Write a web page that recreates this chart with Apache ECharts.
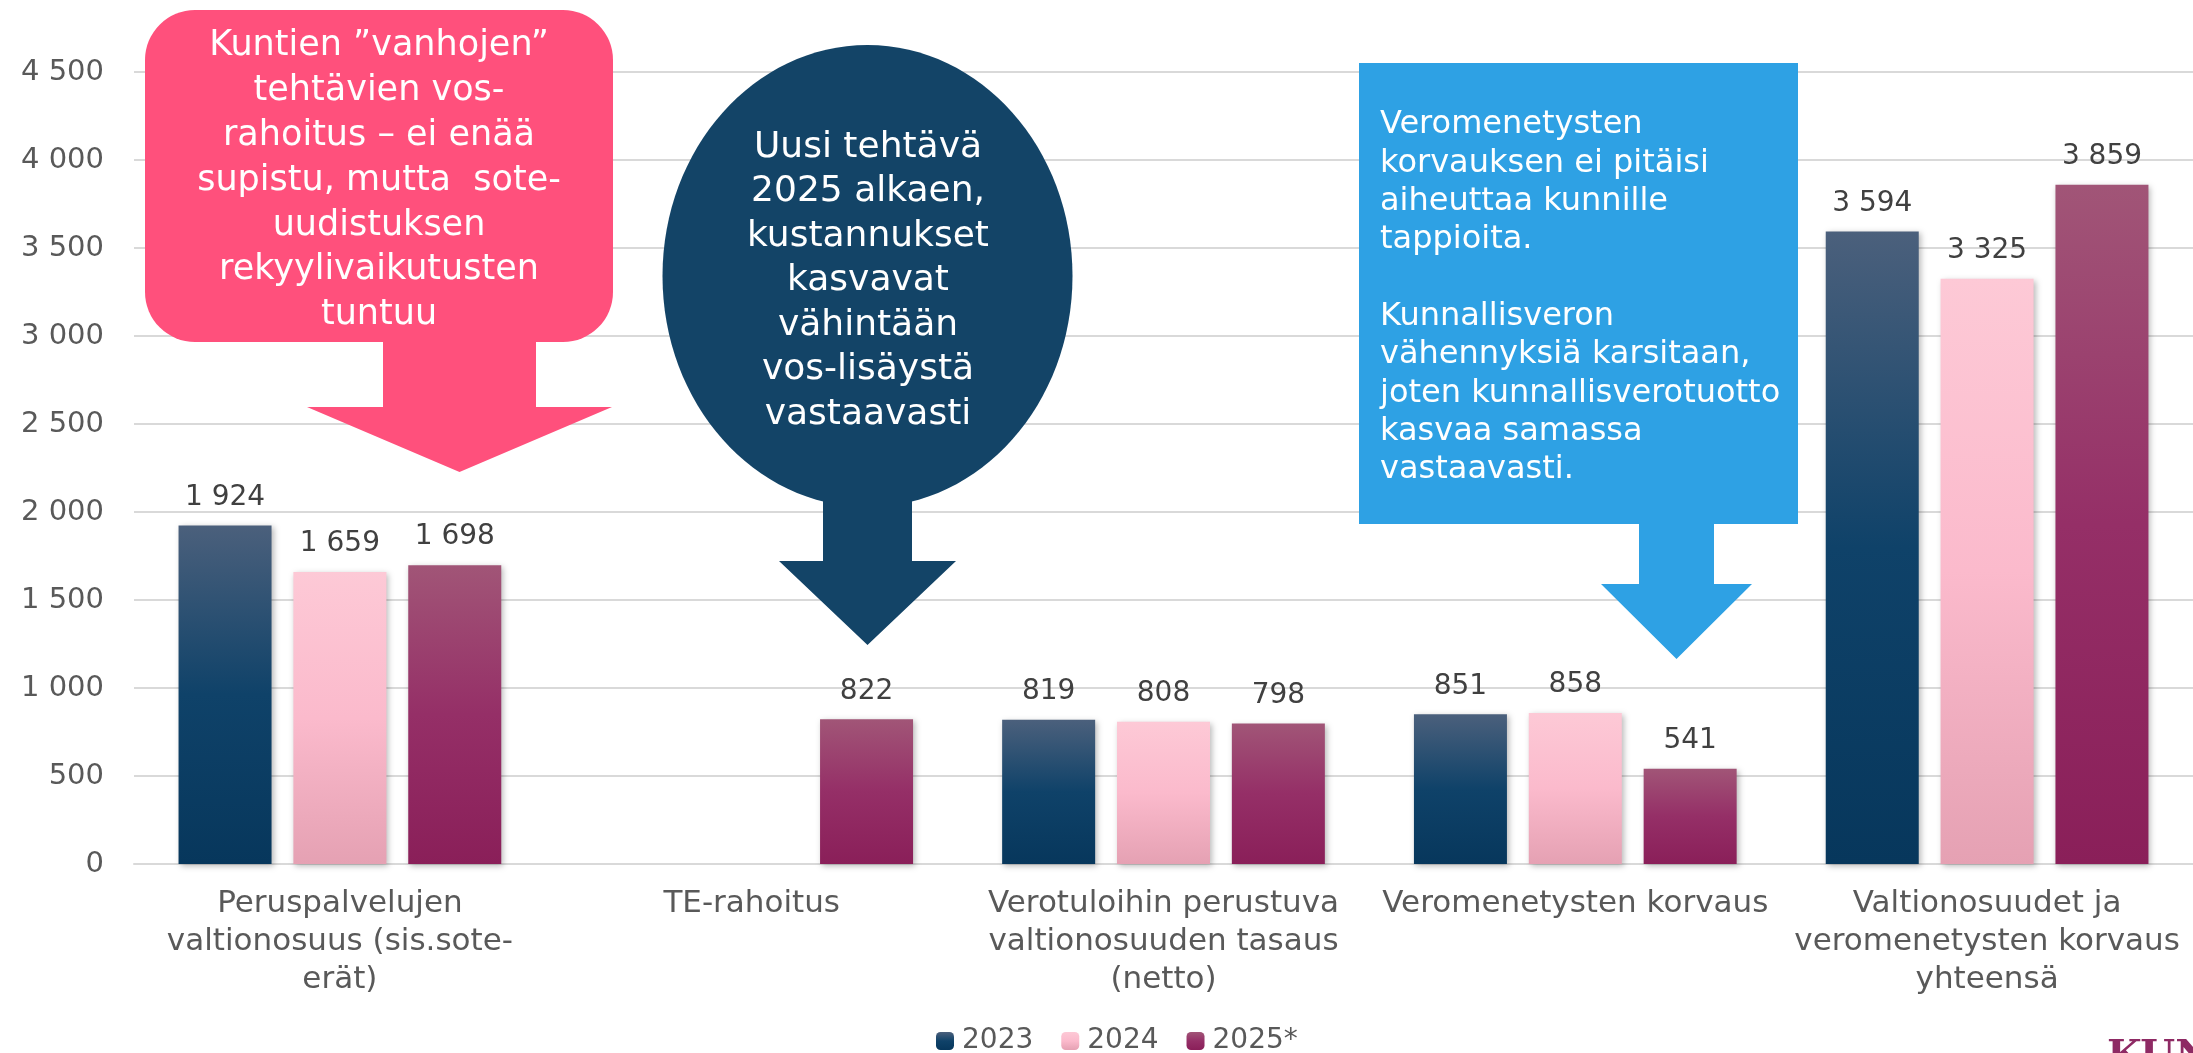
<!DOCTYPE html>
<html>
<head>
<meta charset="utf-8">
<script src="https://cdn.jsdelivr.net/npm/echarts@6/dist/echarts.min.js"></script>
<style>
  html, body { margin: 0; padding: 0; background: #fff; }
  #chart { width: 2193px; height: 1053px; }
</style>
</head>
<body>
<div id="chart"></div>
<script>
// luokat ja arvot (milj. euroa)
var categories = [
  'Peruspalvelujen\nvaltionosuus (sis.sote-\nerät)',
  'TE-rahoitus',
  'Verotuloihin perustuva\nvaltionosuuden tasaus\n(netto)',
  'Veromenetysten korvaus',
  'Valtionosuudet ja\nveromenetysten korvaus\nyhteensä'
]
var years = ['2023', '2024', '2025*']
var data2023 = [1924, null, 819, 851, 3594]
var data2024 = [1659, null, 808, 858, 3325]
var data2025 = [1698, 822, 798, 541, 3859]

var FONT = 'DejaVu Sans'

function grad(c0, c1, c2) {
  return new echarts.graphic.LinearGradient(0, 0, 0, 1, [
    { offset: 0, color: c0 },
    { offset: 0.5, color: c1 },
    { offset: 1, color: c2 }
  ])
}

function fmt(v) {
  return String(v).replace(/\B(?=(\d{3})+(?!\d))/g, ' ')
}

var colors = [
  grad('#4b607c', '#0f4269', '#07375c'),
  grad('#fdc9d6', '#fbbacc', '#e5a1b3'),
  grad('#a15577', '#952f67', '#8a1f59')
]

function barSeries(name, values, color) {
  return {
    name: name,
    type: 'bar',
    data: values,
    barWidth: 93,
    barGap: '23.5%',
    itemStyle: {
      color: color,
      shadowBlur: 6,
      shadowOffsetX: 2,
      shadowOffsetY: 2,
      shadowColor: 'rgba(0,0,0,0.28)'
    },
    label: {
      show: true,
      position: 'top',
      distance: 14,
      fontFamily: FONT,
      fontSize: 28,
      color: '#404040',
      formatter: function (p) { return fmt(p.value) }
    }
  }
}

var chart = echarts.init(document.getElementById('chart'))

chart.setOption({
  animation: false,
  textStyle: { fontFamily: FONT },
  grid: { left: 134, top: 72, width: 2072, height: 792 },
  legend: {
    data: years,
    left: 936,
    top: 1026,
    padding: 0,
    itemWidth: 18,
    itemHeight: 18,
    itemGap: 28,
    textStyle: { fontFamily: FONT, fontSize: 28, color: '#595959', lineHeight: 30, padding: [0, 0, 0, 3] }
  },
  xAxis: {
    type: 'category',
    data: categories,
    axisTick: { show: false },
    axisLine: { lineStyle: { color: '#d9d9d9', width: 2 } },
    axisLabel: {
      interval: 0,
      margin: 21,
      fontFamily: FONT,
      fontSize: 31,
      lineHeight: 38,
      color: '#595959'
    }
  },
  yAxis: {
    type: 'value',
    min: 0,
    max: 4500,
    interval: 500,
    axisLine: { show: false },
    axisTick: { show: false },
    splitLine: { lineStyle: { color: '#d9d9d9', width: 2 } },
    axisLabel: {
      margin: 30,
      fontFamily: FONT,
      fontSize: 29,
      color: '#595959',
      formatter: fmt
    }
  },
  series: [
    barSeries(years[0], data2023, colors[0]),
    barSeries(years[1], data2024, colors[1]),
    barSeries(years[2], data2025, colors[2])
  ],
  graphic: [
    // pinkki puhekupla + nuoli
    {
      type: 'rect',
      shape: { x: 145, y: 10, width: 468, height: 332, r: 50 },
      style: { fill: '#ff507c' },
      z: 50
    },
    {
      type: 'polygon',
      shape: { points: [[383, 340], [536, 340], [536, 407], [612, 407], [459.5, 472], [307, 407], [383, 407]] },
      style: { fill: '#ff507c' },
      z: 50
    },
    {
      type: 'text',
      z: 51,
      style: {
        x: 379,
        y: 24,
        text: 'Kuntien ”vanhojen”\ntehtävien vos-\nrahoitus – ei enää\nsupistu, mutta  sote-\nuudistuksen\nrekyylivaikutusten\ntuntuu',
        fill: '#fff',
        font: '35px "DejaVu Sans"',
        align: 'center',
        verticalAlign: 'top',
        lineHeight: 44.8
      }
    },
    // tumma soikio + nuoli
    {
      type: 'ellipse',
      shape: { cx: 867.5, cy: 276, rx: 205, ry: 231 },
      style: { fill: '#134467' },
      z: 50
    },
    {
      type: 'polygon',
      shape: { points: [[823, 470], [912, 470], [912, 561], [956, 561], [867.5, 645], [779, 561], [823, 561]] },
      style: { fill: '#134467' },
      z: 50
    },
    {
      type: 'text',
      z: 51,
      style: {
        x: 868,
        y: 125,
        text: 'Uusi tehtävä\n2025 alkaen,\nkustannukset\nkasvavat\nvähintään\nvos-lisäystä\nvastaavasti',
        fill: '#fff',
        font: '36px "DejaVu Sans"',
        align: 'center',
        verticalAlign: 'top',
        lineHeight: 44.5
      }
    },
    // sininen laatikko + nuoli
    {
      type: 'rect',
      shape: { x: 1359, y: 63, width: 439, height: 461 },
      style: { fill: '#2ea1e4' },
      z: 50
    },
    {
      type: 'polygon',
      shape: { points: [[1639, 522], [1714, 522], [1714, 584], [1752, 584], [1676.5, 659], [1601, 584], [1639, 584]] },
      style: { fill: '#2ea1e4' },
      z: 50
    },
    {
      type: 'text',
      z: 51,
      style: {
        x: 1380,
        y: 106,
        text: 'Veromenetysten\nkorvauksen ei pitäisi\naiheuttaa kunnille\ntappioita.\n\nKunnallisveron\nvähennyksiä karsitaan,\njoten kunnallisverotuotto\nkasvaa samassa\nvastaavasti.',
        fill: '#fff',
        font: '32px "DejaVu Sans"',
        align: 'left',
        verticalAlign: 'top',
        lineHeight: 38.3
      }
    },
    // logo (leikkautuu reunaan)
    {
      type: 'text',
      z: 51,
      style: {
        x: 2107,
        y: 1038,
        text: 'KUNTALIITTO',
        fill: '#8e2a64',
        font: 'bold 40px "DejaVu Serif"',
        align: 'left',
        verticalAlign: 'top'
      }
    }
  ]
})
</script>
</body>
</html>
